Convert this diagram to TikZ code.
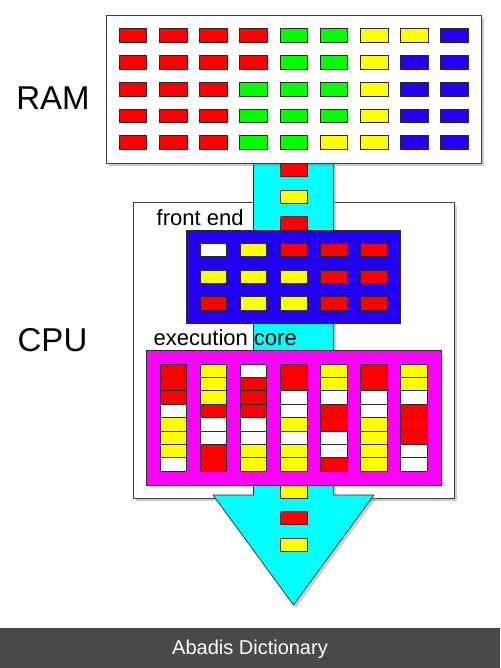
\documentclass[tikz,border=0pt]{standalone}
\usepackage{fontspec}
\setmainfont{Liberation Sans}
\usetikzlibrary{shadows}
\definecolor{cR}{HTML}{FF0000}
\definecolor{cG}{HTML}{00FF00}
\definecolor{cY}{HTML}{FFFF00}
\definecolor{cB}{HTML}{2200F2}
\definecolor{cW}{HTML}{FFFFFF}
\definecolor{cC}{HTML}{00FFFF}
\definecolor{cM}{HTML}{FF00FF}
\definecolor{bannergray}{HTML}{4A4A4A}
\definecolor{edge}{HTML}{2A2A2A}
\begin{document}
\begin{tikzpicture}[x=1pt,y=-1pt,
  cell/.style={draw=edge, line width=0.8pt, minimum width=27pt, minimum height=13.4pt, inner sep=0pt, outer sep=0pt},
  panel/.style={draw=edge!90, line width=0.9pt, fill=white, inner sep=0pt, outer sep=0pt,
    drop shadow={shadow xshift=2.5pt, shadow yshift=-3pt, opacity=0.4}},
  unit/.style={draw=edge, line width=0.7pt, inner sep=0pt, outer sep=0pt, anchor=north west},
  flow/.style={fill=cC, draw=edge, line width=0.7pt,
    drop shadow={shadow xshift=2.5pt, shadow yshift=-3pt, opacity=0.4}},
  biglabel/.style={font=\fontsize{33}{38}\selectfont, anchor=base, inner sep=0pt},
  smalllabel/.style={font=\fontsize{22}{26}\selectfont, anchor=base west, inner sep=0pt}
]
\useasboundingbox (0,0) rectangle (500,668);
\fill[white] (0,0) rectangle (500,668);

% CPU box
\node[panel, anchor=north west, minimum width=321.2pt, minimum height=295.3pt] (cpu) at (133.3,202.7) {};

% data flow arrow
\coordinate (fl1) at (253.5,163);
\coordinate (fl2) at (253.5,495);
\coordinate (fl3) at (213,495);
\coordinate (tip) at (293.5,605);
\coordinate (fl5) at (374,495);
\coordinate (fl6) at (333.5,495);
\coordinate (fl7) at (333.5,163);
\path[flow] (fl1) -- (fl2) -- (fl3) -- (tip) -- (fl5) -- (fl6) -- (fl7) -- cycle;

% RAM box
\node[panel, anchor=north west, minimum width=375.5pt, minimum height=147.5pt] (ram) at (106,15.5) {};

% front end box
\node[unit, fill=cB, minimum width=214pt, minimum height=93.3pt] (frontend) at (186.7,230) {};
% execution core box
\node[unit, fill=cM, minimum width=295.7pt, minimum height=135pt] (core) at (146,350) {};

% RAM cells
\foreach \row [count=\j from 0] in {{R,R,R,R,G,G,Y,Y,B},{R,R,R,R,G,G,Y,B,B},{R,R,R,G,G,G,Y,B,B},{R,R,R,G,G,G,Y,B,B},{R,R,R,G,G,Y,Y,B,B}}{
  \foreach \c [count=\i from 0] in \row {
    \node[cell, fill=c\c, minimum width=27.5pt, minimum height=13.6pt] (ram-\j-\i) at ({133+40.2*\i},{35.7+26.75*\j}) {};
  }
}

% cells in the stream
\node[cell, fill=cR] (s1) at (293.6,169.7) {};
\node[cell, fill=cY] (s2) at (293.6,196.7) {};
\node[cell, fill=cR] (s3) at (293.6,223.3) {};
\node[cell, fill=cY] (s4) at (293.6,491.7) {};
\node[cell, fill=cR] (s5) at (293.6,518) {};
\node[cell, fill=cY] (s6) at (293.6,545) {};

% front end cells
\foreach \row [count=\j from 0] in {{W,Y,R,R,R},{Y,Y,Y,R,R},{R,Y,Y,R,R}}{
  \foreach \c [count=\i from 0] in \row {
    \node[cell, fill=c\c, minimum width=26.7pt, minimum height=13.3pt] (fe-\j-\i) at ({213.3+40.2*\i},{250+26.7*\j}) {};
  }
}

% execution core cells
\foreach \col [count=\i from 0] in {{R,R,R,W,Y,Y,Y,W},{Y,Y,Y,R,W,W,R,R},{W,R,R,R,W,W,Y,Y},{R,R,W,W,Y,W,Y,Y},{Y,Y,W,R,R,W,W,R},{R,R,W,W,Y,Y,Y,Y},{Y,Y,W,R,R,R,W,W}}{
  \foreach \c [count=\k from 0] in \col {
    \node[cell, fill=c\c, minimum width=26.7pt, minimum height=13.4pt] (ex-\i-\k) at ({173.3+40.1*\i},{370.7+13.4*\k}) {};
  }
}

% labels
\node[biglabel] (ramlabel) at (53,109.3) {RAM};
\node[biglabel] (cpulabel) at (52.5,351.7) {CPU};
\node[smalllabel] (felabel) at (156.5,225) {front end};
\node[smalllabel] (exlabel) at (153.5,345) {execution core};

% banner
\fill[bannergray] (0,627.7) rectangle (500,668);
\node[text=white, font=\fontsize{20}{24}\selectfont, anchor=base, inner sep=0pt] (bannertext) at (250,654) {Abadis Dictionary};
\end{tikzpicture}
\end{document}
